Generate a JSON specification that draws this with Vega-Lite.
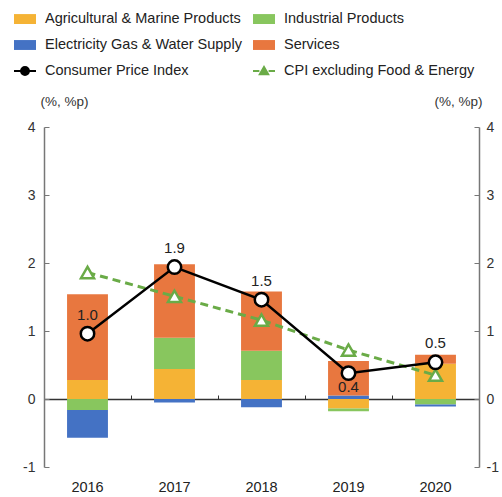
{
  "$schema": "https://vega.github.io/schema/vega-lite/v6.json",
  "width": 435,
  "height": 340,
  "autosize": {"type": "none"},
  "padding": {"left": 44, "top": 127, "right": 23, "bottom": 30},
  "config": {"view": {"stroke": null}, "font": "Liberation Sans"},
  "datasets": {
    "bars": [
      {"year": "2016", "series": "Agricultural & Marine Products", "k": 1, "value": 0.28},
      {"year": "2016", "series": "Industrial Products", "k": 2, "value": -0.16},
      {"year": "2016", "series": "Electricity Gas & Water Supply", "k": 3, "value": -0.41},
      {"year": "2016", "series": "Services", "k": 4, "value": 1.26},
      {"year": "2017", "series": "Agricultural & Marine Products", "k": 1, "value": 0.44},
      {"year": "2017", "series": "Industrial Products", "k": 2, "value": 0.46},
      {"year": "2017", "series": "Electricity Gas & Water Supply", "k": 3, "value": -0.05},
      {"year": "2017", "series": "Services", "k": 4, "value": 1.08},
      {"year": "2018", "series": "Agricultural & Marine Products", "k": 1, "value": 0.28},
      {"year": "2018", "series": "Industrial Products", "k": 2, "value": 0.43},
      {"year": "2018", "series": "Electricity Gas & Water Supply", "k": 3, "value": -0.12},
      {"year": "2018", "series": "Services", "k": 4, "value": 0.87},
      {"year": "2019", "series": "Agricultural & Marine Products", "k": 1, "value": -0.14},
      {"year": "2019", "series": "Industrial Products", "k": 2, "value": -0.04},
      {"year": "2019", "series": "Electricity Gas & Water Supply", "k": 3, "value": 0.05},
      {"year": "2019", "series": "Services", "k": 4, "value": 0.51},
      {"year": "2020", "series": "Agricultural & Marine Products", "k": 1, "value": 0.52},
      {"year": "2020", "series": "Industrial Products", "k": 2, "value": -0.08},
      {"year": "2020", "series": "Electricity Gas & Water Supply", "k": 3, "value": -0.03},
      {"year": "2020", "series": "Services", "k": 4, "value": 0.13}
    ],
    "lines": [
      {"year": "2016", "series": "Consumer Price Index", "value": 0.96},
      {"year": "2017", "series": "Consumer Price Index", "value": 1.94},
      {"year": "2018", "series": "Consumer Price Index", "value": 1.46},
      {"year": "2019", "series": "Consumer Price Index", "value": 0.38},
      {"year": "2020", "series": "Consumer Price Index", "value": 0.54},
      {"year": "2016", "series": "CPI excluding Food & Energy", "value": 1.86},
      {"year": "2017", "series": "CPI excluding Food & Energy", "value": 1.51},
      {"year": "2018", "series": "CPI excluding Food & Energy", "value": 1.16},
      {"year": "2019", "series": "CPI excluding Food & Energy", "value": 0.72},
      {"year": "2020", "series": "CPI excluding Food & Energy", "value": 0.35}
    ]
  },
  "layer": [
    {
      "data": {"name": "bars"},
      "mark": {"type": "bar", "width": {"band": 0.47}},
      "encoding": {
        "x": {
          "field": "year",
          "type": "ordinal",
          "scale": {"paddingInner": 0, "paddingOuter": 0},
          "axis": {
            "title": null,
            "orient": "bottom",
            "domain": false,
            "ticks": false,
            "labelPadding": 13,
            "labelFontSize": 14.5,
            "labelColor": "#222222",
            "labelAngle": 0
          }
        },
        "y": {
          "field": "value",
          "type": "quantitative",
          "stack": "zero",
          "scale": {"domain": [-1, 4], "nice": false, "zero": false},
          "axis": {
            "orient": "left",
            "values": [-1, 0, 1, 2, 3, 4],
            "labelExpr": "'' + datum.value",
            "grid": false,
            "domainColor": "#777777",
            "domainWidth": 1.5,
            "tickColor": "#777777",
            "tickSize": -5,
            "labelPadding": 14,
            "labelFontSize": 14,
            "labelColor": "#333333",
            "title": "(%, %p)",
            "titleAngle": 0,
            "titleX": -4,
            "titleY": -26,
            "titleAlign": "left",
            "titleBaseline": "middle",
            "titleFontSize": 13.5,
            "titleFontWeight": "normal",
            "titleColor": "#333333"
          }
        },
        "color": {
          "field": "series",
          "type": "nominal",
          "scale": {
            "domain": ["Agricultural & Marine Products", "Electricity Gas & Water Supply", "Consumer Price Index", "Industrial Products", "Services", "CPI excluding Food & Energy"],
            "range": ["#f5b335", "#4472c4", "#000000", "#88c65e", "#e8773f", "#6aab47"]
          },
          "legend": {
            "title": null,
            "orient": "none",
            "legendX": -31,
            "legendY": -120,
            "columns": 2,
            "columnPadding": 7,
            "rowPadding": 5,
            "labelFontSize": 14.5,
            "labelColor": "#222222",
            "labelOffset": 8,
            "labelLimit": 300,
            "symbolSize": 484,
            "symbolStrokeWidth": 2,
            "symbolOpacity": 1,
            "encode": {
              "symbols": {
                "update": {
                  "shape": {"signal": "datum.value === 'Consumer Price Index' ? 'M-1,0H-0.36M0.36,0H1M-0.36,0A0.36,0.36,0,1,1,0.36,0A0.36,0.36,0,1,1,-0.36,0Z' : datum.value === 'CPI excluding Food & Energy' ? 'M-1,0H-0.42M0.42,0H1M0,-0.36L0.38,0.3L-0.38,0.3Z' : 'M-1,-0.45H1V0.45H-1Z'"},
                  "fill": {"signal": "datum.value === 'Consumer Price Index' || datum.value === 'CPI excluding Food & Energy' ? '#ffffff' : scale('color', datum.value)"},
                  "stroke": {"signal": "datum.value === 'Consumer Price Index' ? '#000000' : datum.value === 'CPI excluding Food & Energy' ? '#6aab47' : 'transparent'"},
                  "strokeWidth": {"value": 2},
                  "size": {"value": 484}
                }
              }
            }
          }
        },
        "order": {"field": "k", "type": "quantitative"}
      }
    },
    {
      "data": {"name": "lines"},
      "transform": [{"filter": "datum.series === 'CPI excluding Food & Energy'"}],
      "mark": {"type": "line", "color": "#6aab47", "strokeWidth": 3, "strokeDash": [8, 5]},
      "encoding": {
        "x": {
          "field": "year",
          "type": "ordinal",
          "axis": {
            "title": null,
            "orient": "bottom",
            "offset": -68,
            "labels": false,
            "domainColor": "#333333",
            "domainWidth": 1.5,
            "tickColor": "#333333",
            "tickSize": -4,
            "tickWidth": 1,
            "tickBand": "extent"
          }
        },
        "y": {"field": "value", "type": "quantitative", "axis": null}
      }
    },
    {
      "data": {"name": "lines"},
      "transform": [{"filter": "datum.series === 'Consumer Price Index'"}],
      "mark": {"type": "line", "color": "#000000", "strokeWidth": 2.5},
      "encoding": {
        "x": {"field": "year", "type": "ordinal", "axis": null},
        "y": {
          "field": "value",
          "type": "quantitative",
          "axis": {
            "orient": "right",
            "values": [-1, 0, 1, 2, 3, 4],
            "labelExpr": "'' + datum.value",
            "grid": false,
            "domainColor": "#777777",
            "domainWidth": 1.5,
            "tickColor": "#777777",
            "tickSize": -5,
            "labelPadding": 12,
            "labelFontSize": 14,
            "labelColor": "#333333",
            "title": "(%, %p)",
            "titleAngle": 0,
            "titleX": 3,
            "titleY": -26,
            "titleAlign": "right",
            "titleBaseline": "middle",
            "titleFontSize": 13.5,
            "titleFontWeight": "normal",
            "titleColor": "#333333"
          }
        }
      }
    },
    {
      "data": {"name": "lines"},
      "transform": [{"filter": "datum.series === 'CPI excluding Food & Energy'"}],
      "mark": {"type": "point", "shape": "triangle-up", "filled": true, "fill": "#ffffff", "stroke": "#6aab47", "strokeWidth": 2.5, "size": 170, "opacity": 1},
      "encoding": {
        "x": {"field": "year", "type": "ordinal", "axis": null},
        "y": {"field": "value", "type": "quantitative", "axis": null}
      }
    },
    {
      "data": {"name": "lines"},
      "transform": [{"filter": "datum.series === 'Consumer Price Index'"}],
      "mark": {"type": "point", "shape": "circle", "filled": true, "fill": "#ffffff", "stroke": "#000000", "strokeWidth": 2.5, "size": 180, "opacity": 1},
      "encoding": {
        "x": {"field": "year", "type": "ordinal", "axis": null},
        "y": {"field": "value", "type": "quantitative", "axis": null}
      }
    },
    {
      "data": {"name": "lines"},
      "transform": [{"filter": "datum.series === 'Consumer Price Index' && datum.year !== '2019'"}],
      "mark": {"type": "text", "dy": -19, "fontSize": 15, "color": "#222222"},
      "encoding": {
        "x": {"field": "year", "type": "ordinal", "axis": null},
        "y": {"field": "value", "type": "quantitative", "axis": null},
        "text": {"field": "value", "type": "quantitative", "format": ".1f"}
      }
    },
    {
      "data": {"name": "lines"},
      "transform": [{"filter": "datum.series === 'Consumer Price Index' && datum.year === '2019'"}],
      "mark": {"type": "text", "dy": 14, "fontSize": 15, "color": "#222222"},
      "encoding": {
        "x": {"field": "year", "type": "ordinal", "axis": null},
        "y": {"field": "value", "type": "quantitative", "axis": null},
        "text": {"field": "value", "type": "quantitative", "format": ".1f"}
      }
    }
  ],
  "resolve": {"axis": {"x": "independent", "y": "independent"}}
}
